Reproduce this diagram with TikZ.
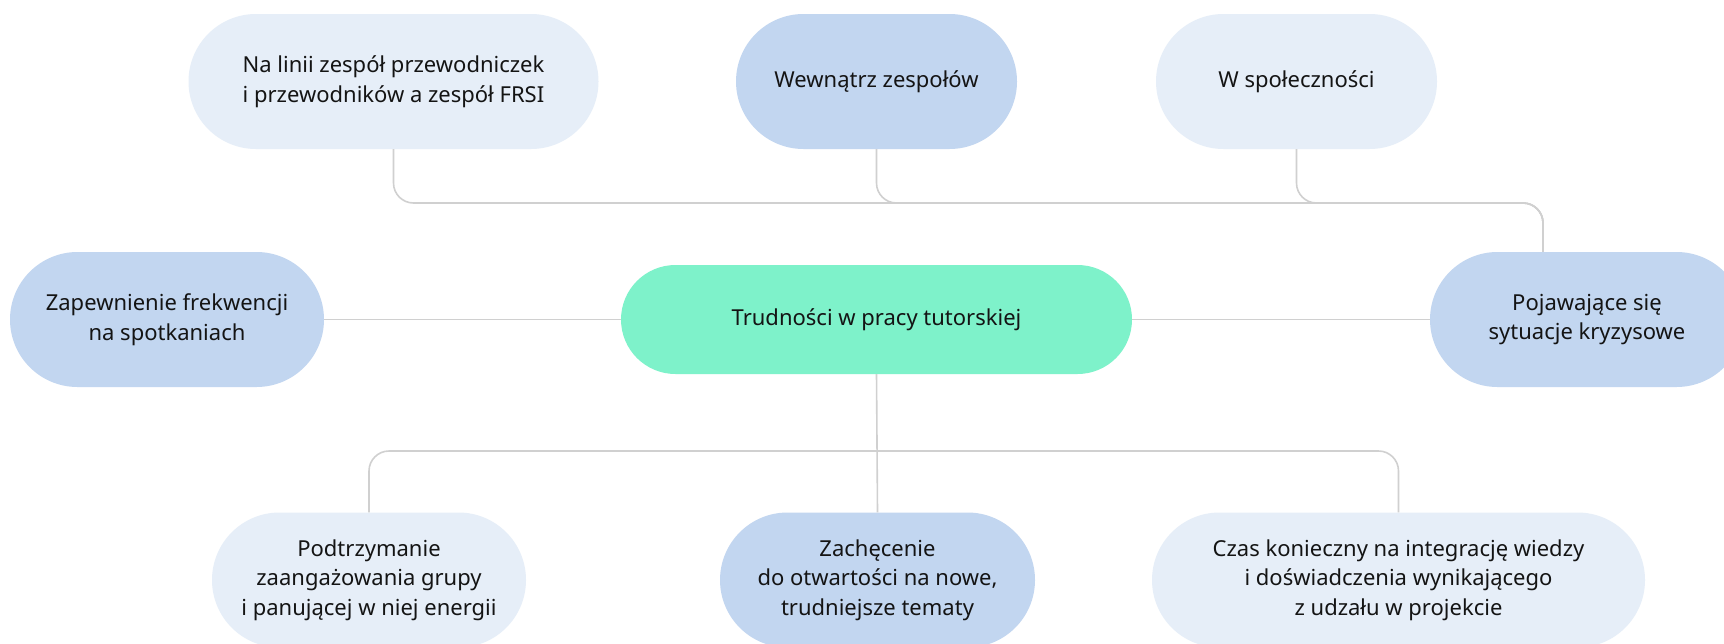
\documentclass[tikz,border=0pt]{standalone}
\usepackage{fontspec}
\setmainfont{Noto Sans}
\definecolor{light}{HTML}{E6EEF8}
\definecolor{mid}{HTML}{C2D6F0}
\definecolor{green}{HTML}{7EF2CA}
\definecolor{linegray}{HTML}{D0D0D0}
\definecolor{ink}{HTML}{141414}
\tikzset{
  pill/.style={rectangle, inner sep=0pt, minimum height=135pt, rounded corners=67.5pt,
    align=center, text=ink, font=\fontsize{22}{29.5}\selectfont},
  pilllight/.style={pill, fill=light},
  pillmid/.style={pill, fill=mid},
  pillgreen/.style={pill, fill=green, minimum height=109pt, rounded corners=54.5pt},
  conn/.style={draw=linegray, line width=1.6pt, rounded corners=20pt},
}
\begin{document}
\begin{tikzpicture}[x=1pt,y=-1pt]
\useasboundingbox (0,0) rectangle (1724,643);
\fill[white] (0,0) rectangle (1724,643);
% nodes
\node[pilllight, minimum width=410pt] (n1) at (393.5,81.5) {Na linii zespół przewodniczek\\i przewodników a zespół FRSI};
\node[pillmid, minimum width=281pt] (n2) at (876.5,81.5) {Wewnątrz zespołów};
\node[pilllight, minimum width=281pt] (n3) at (1296.5,81.5) {W społeczności};
\node[pillmid, minimum width=314pt] (lf) at (167,319.5) {Zapewnienie frekwencji\\na spotkaniach};
\node[pillgreen, minimum width=511pt] (c) at (876.5,319.5) {Trudności w pracy tutorskiej};
\node[pillmid, minimum width=314pt] (rt) at (1587,319.5) {Pojawające się\\sytuacje kryzysowe};
\node[pilllight, minimum width=314pt] (b1) at (369,580) {Podtrzymanie\\zaangażowania grupy\\i panującej w niej energii};
\node[pillmid, minimum width=315pt] (b2) at (877.5,580) {Zachęcenie\\do otwartości na nowe,\\trudniejsze tematy};
\node[pilllight, minimum width=493pt] (b3) at (1398.5,580) {Czas konieczny na integrację wiedzy\\i doświadczenia wynikającego\\z udzału w projekcie};
% junctions
\coordinate (tj) at (1543,203);
\coordinate (bj) at (877,451);
% connectors
\draw[conn] (n1.south) |- (tj) -- (tj |- rt.north);
\draw[conn] (n2.south) |- (tj) -- (tj |- rt.north);
\draw[conn] (n3.south) |- (tj) -- (tj |- rt.north);
\draw[conn] (lf.east) -- (c.west);
\draw[conn] (c.east) -- (rt.west);
\draw[conn] (c.south) -- (b2.north);
\draw[conn] (b1.north) |- (bj) -| (b3.north);
\end{tikzpicture}
\end{document}
